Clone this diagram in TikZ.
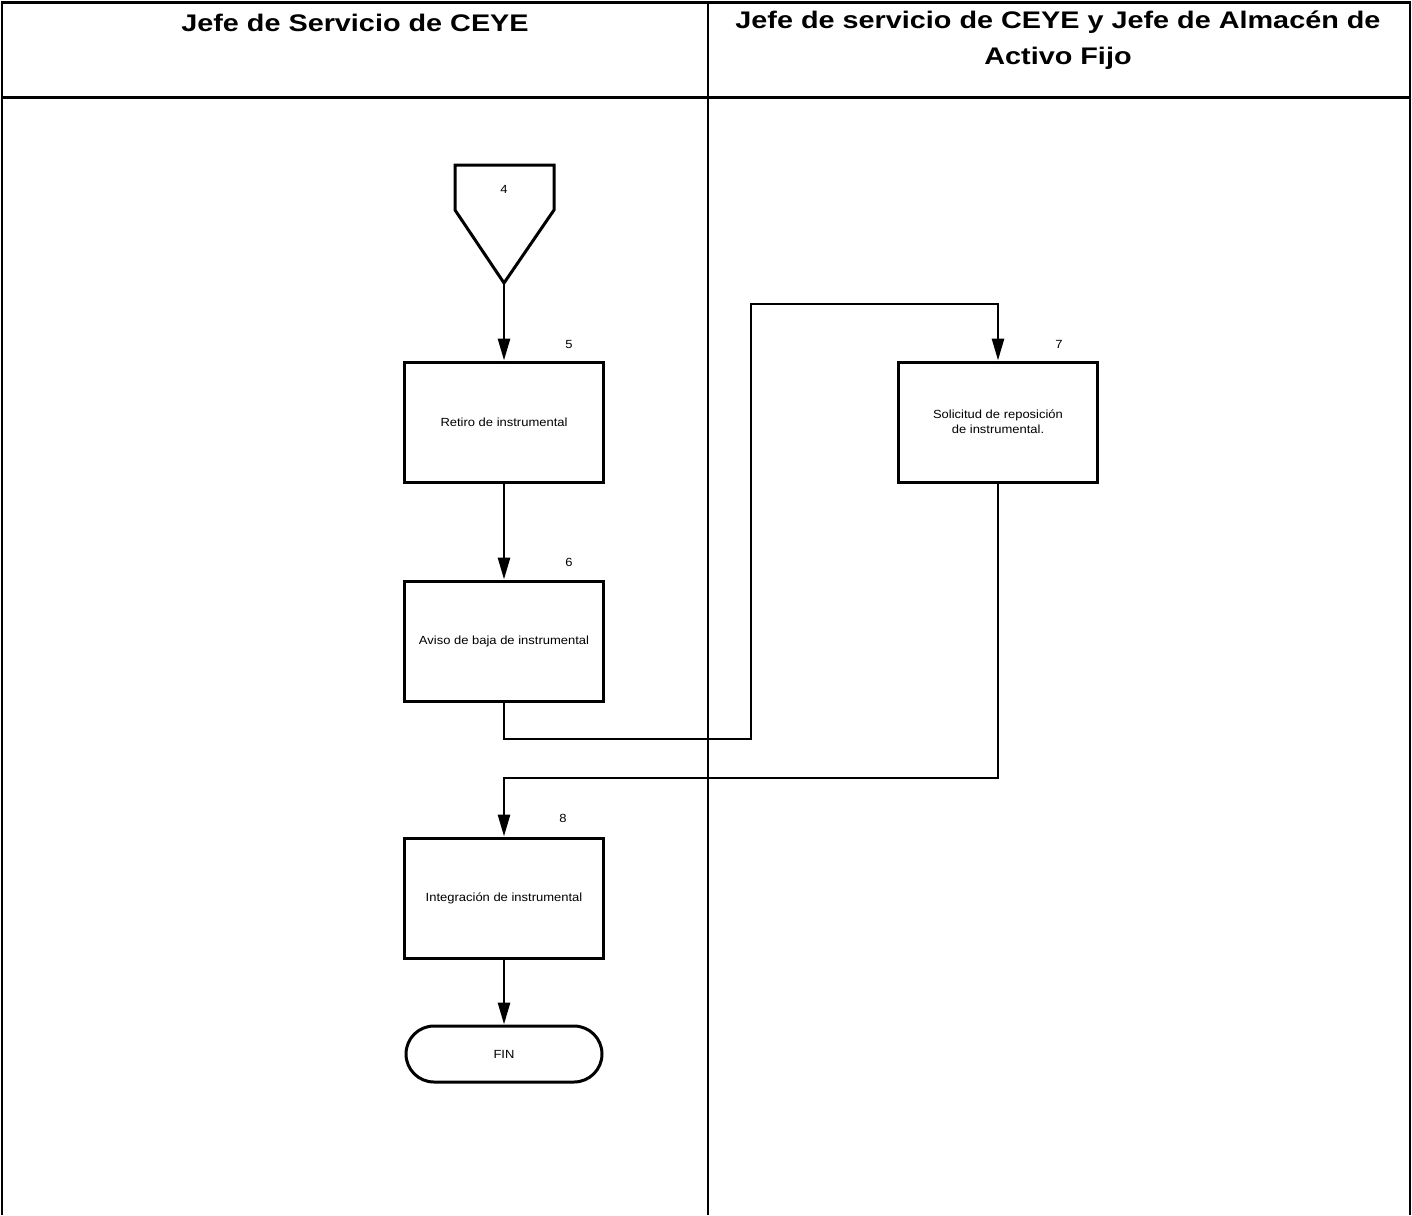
\documentclass[tikz,border=0pt]{standalone}
\usepackage{fontspec}
\setmainfont{Liberation Sans}[FakeStretch=1.1]
\newfontfamily\hdrfont{Liberation Sans}[FakeStretch=1.2]
\usetikzlibrary{arrows.meta}
\begin{document}
\begin{tikzpicture}[x=0.5pt, y=-0.5pt, every node/.style={font=\fontsize{5.9}{7.6}\selectfont},
  hdr/.style={font=\hdrfont\fontsize{12}{18}\selectfont\bfseries, align=center},
  proc/.style={draw, line width=1.5pt, minimum width=99.5pt, minimum height=60pt, align=center, inner sep=0pt},
  flow/.style={line width=1.4pt, -{Triangle[length=11pt,width=6pt]}}]
  \useasboundingbox (0,0) rectangle (1412,1215);
  \draw[line width=1pt] (2,1215) -- (2,2) (1410,2) -- (1410,1215) (708,2) -- (708,1215);
  \draw[line width=1.5pt] (1,2) -- (1411,2) (1,97) -- (1411,97);
  \node[hdr] (h1) at (355,23) {Jefe de Servicio de CEYE};
  \node[hdr] (h2) at (1058,40) {Jefe de servicio de CEYE y Jefe de Almacén de\\Activo Fijo};
  \draw[line width=1.5pt, line join=miter] (455,165) -- (554,165) -- (554,210) -- (504,283) -- (455,210) -- cycle;
  \coordinate (c4) at (504,283);
  \node (n4) at (504,189) {4};
  \node[proc] (b5) at (504,422) {Retiro de instrumental};
  \node[proc] (b6) at (504,641) {Aviso de baja de instrumental};
  \node[proc] (b7) at (998,422) {Solicitud de reposición\\de instrumental.};
  \node[proc] (b8) at (504,898) {Integración de instrumental};
  \node[draw, line width=1.5pt, rounded corners=14pt, minimum width=98pt, minimum height=28pt] (fin) at (504,1054) {FIN};
  \node (l5) at (569,344) {5};
  \node (l6) at (569,562) {6};
  \node (l7) at (1059,344) {7};
  \node (l8) at (563,818) {8};
  \coordinate (k1) at (751,739);
  \coordinate (k2) at (751,304);
  \coordinate (k3) at (504,778);
  \draw[flow] (c4) -- (b5);
  \draw[flow] (b5) -- (b6);
  \draw[flow] (b6.south) |- (k1) -- (k2) -| (b7.north);
  \draw[flow] (b7.south) |- (k3) -- (b8.north);
  \draw[flow] (b8) -- (fin);
\end{tikzpicture}
\end{document}
